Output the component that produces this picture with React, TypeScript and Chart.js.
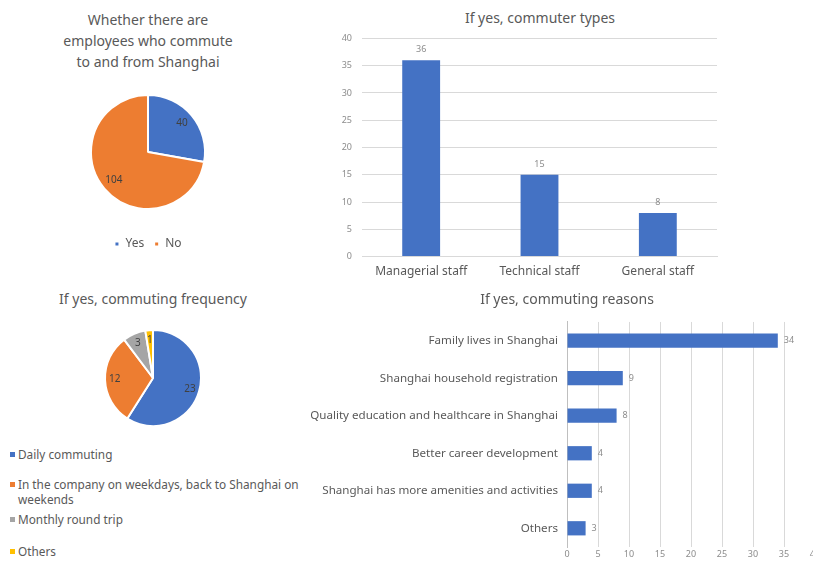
import React, { useEffect, useRef } from "react";
import { Chart, registerables } from "chart.js";

Chart.register(...registerables);

const FONT = "'Noto Sans', sans-serif";
const BLUE = "#4472C4";
const ORANGE = "#ED7D31";
const GREY = "#A5A5A5";
const YELLOW = "#FFC000";
const TEXT = "#595959";
const TICK = "#8c8c8c";
const GRID = "#d9d9d9";

// Chart 1: whether employees commute
const commuteTitle = ["Whether there are", "employees who commute", "to and from Shanghai"];
const commuteLabels = ["Yes", "No"];
const commuteValues = [40, 104];

// Chart 2: commuter types
const typeTitle = "If yes, commuter types";
const typeLabels = ["Managerial staff", "Technical staff", "General staff"];
const typeValues = [36, 15, 8];
const typeAxisMax = 40;
const typeAxisStep = 5;

// Chart 3: commuting frequency
const freqTitle = "If yes, commuting frequency";
const freqLabels = [
  "Daily commuting",
  "In the company on weekdays, back to Shanghai on weekends",
  "Monthly round trip",
  "Others",
];
const freqValues = [23, 12, 3, 1];

// Chart 4: commuting reasons
const reasonTitle = "If yes, commuting reasons";
const reasonLabels = [
  "Family lives in Shanghai",
  "Shanghai household registration",
  "Quality education and healthcare in Shanghai",
  "Better career development",
  "Shanghai has more amenities and activities",
  "Others",
];
const reasonValues = [34, 9, 8, 4, 4, 3];
const reasonAxisMax = 40;
const reasonAxisStep = 5;

const pieColors = [BLUE, ORANGE, GREY, YELLOW];

const valueLabels = {
  id: "valueLabels",
  afterDatasetsDraw(chart: any) {
    const opts = chart.options.plugins.valueLabels;
    if (!opts || !opts.mode) return;
    const ctx = chart.ctx;
    ctx.save();
    ctx.font = `${opts.size}px ${FONT}`;
    ctx.fillStyle = opts.color;
    chart.data.datasets.forEach((ds: any, di: number) => {
      const meta = chart.getDatasetMeta(di);
      meta.data.forEach((el: any, i: number) => {
        const text = String(ds.data[i]);
        if (opts.mode === "pie") {
          const p = el.getProps(["x", "y", "startAngle", "endAngle", "outerRadius"], true);
          const mid = (p.startAngle + p.endAngle) / 2;
          const r = p.outerRadius * opts.ratio;
          ctx.textAlign = "center";
          ctx.textBaseline = "middle";
          ctx.fillText(text, p.x + Math.cos(mid) * r, p.y + Math.sin(mid) * r);
        } else if (opts.mode === "top") {
          ctx.textAlign = "center";
          ctx.textBaseline = "bottom";
          ctx.fillText(text, el.x, el.y - opts.offset);
        } else {
          ctx.textAlign = "left";
          ctx.textBaseline = "middle";
          ctx.fillText(text, el.x + opts.offset, el.y);
        }
      });
    });
    ctx.restore();
  },
};

const abs = (left: number, top: number, width: number, height: number): React.CSSProperties => ({
  position: "absolute",
  left,
  top,
  width,
  height,
});

const titleStyle = (left: number, top: number, width: number): React.CSSProperties => ({
  position: "absolute",
  left,
  top,
  width,
  textAlign: "center",
  fontSize: 14,
  lineHeight: "21px",
  color: TEXT,
  fontFamily: FONT,
  whiteSpace: "nowrap",
});

export default function App() {
  const c1 = useRef<HTMLCanvasElement>(null);
  const c2 = useRef<HTMLCanvasElement>(null);
  const c3 = useRef<HTMLCanvasElement>(null);
  const c4 = useRef<HTMLCanvasElement>(null);

  useEffect(() => {
    Chart.defaults.font.family = FONT;
    const charts: Chart[] = [];

    charts.push(
      new Chart(c1.current!, {
        type: "pie",
        data: {
          labels: commuteLabels,
          datasets: [
            {
              data: commuteValues,
              backgroundColor: pieColors.slice(0, commuteValues.length),
              borderColor: "#ffffff",
              borderWidth: 2,
            },
          ],
        },
        options: {
          animation: false,
          responsive: false,
          maintainAspectRatio: false,
          layout: { padding: { left: 50, right: 50, top: 0, bottom: 4 } },
          plugins: {
            title: { display: false },
            tooltip: { enabled: false },
            legend: {
              display: true,
              position: "bottom",
              labels: { boxWidth: 5, boxHeight: 5, color: TEXT, font: { size: 12, family: FONT }, padding: 10 },
            },
            valueLabels: { mode: "pie", ratio: 0.78, size: 10, color: "#404040" },
          } as any,
        },
        plugins: [valueLabels],
      })
    );

    charts.push(
      new Chart(c2.current!, {
        type: "bar",
        data: {
          labels: typeLabels,
          datasets: [
            {
              data: typeValues,
              backgroundColor: BLUE,
              barPercentage: 1,
              categoryPercentage: 0.32,
            },
          ],
        },
        options: {
          animation: false,
          responsive: false,
          maintainAspectRatio: false,
          layout: { padding: { left: 0, right: 23, top: 5, bottom: 7 } },
          scales: {
            x: {
              grid: { display: false, drawTicks: false },
              border: { display: true, color: GRID },
              ticks: { color: TEXT, font: { size: 12, family: FONT }, padding: 8 },
            },
            y: {
              min: 0,
              max: typeAxisMax,
              ticks: { stepSize: typeAxisStep, color: TICK, font: { size: 9, family: FONT }, padding: 10 },
              grid: { color: GRID, drawTicks: false },
              border: { display: false },
              afterFit: (s: any) => {
                s.width = 32;
              },
            },
          },
          plugins: {
            legend: { display: false },
            tooltip: { enabled: false },
            valueLabels: { mode: "top", offset: 6, size: 9, color: TICK },
          } as any,
        },
        plugins: [valueLabels],
      })
    );

    charts.push(
      new Chart(c3.current!, {
        type: "pie",
        data: {
          labels: freqLabels,
          datasets: [
            {
              data: freqValues,
              backgroundColor: pieColors,
              borderColor: "#ffffff",
              borderWidth: 2,
            },
          ],
        },
        options: {
          animation: false,
          responsive: false,
          maintainAspectRatio: false,
          layout: { padding: { left: 64, right: 64, top: 0, bottom: 0 } },
          plugins: {
            legend: { display: false },
            tooltip: { enabled: false },
            valueLabels: { mode: "pie", ratio: 0.8, size: 10, color: "#404040" },
          } as any,
        },
        plugins: [valueLabels],
      })
    );

    charts.push(
      new Chart(c4.current!, {
        type: "bar",
        data: {
          labels: reasonLabels,
          datasets: [
            {
              data: reasonValues,
              backgroundColor: BLUE,
              barPercentage: 1,
              categoryPercentage: 0.38,
            },
          ],
        },
        options: {
          indexAxis: "y",
          animation: false,
          responsive: false,
          maintainAspectRatio: false,
          layout: { padding: { left: 0, right: 25, top: 4, bottom: 0 } },
          scales: {
            x: {
              min: 0,
              max: reasonAxisMax,
              ticks: { stepSize: reasonAxisStep, color: TICK, font: { size: 9, family: FONT }, padding: 2 },
              grid: { color: GRID, drawTicks: false },
              border: { display: false },
            },
            y: {
              grid: { display: false, drawTicks: false },
              border: { display: true, color: "#bfbfbf" },
              ticks: { color: TEXT, font: { size: 11.6, family: FONT }, padding: 9 },
              afterFit: (s: any) => {
                s.width = 267;
              },
            },
          },
          plugins: {
            legend: { display: false },
            tooltip: { enabled: false },
            valueLabels: { mode: "right", offset: 6, size: 9, color: TICK },
          } as any,
        },
        plugins: [valueLabels],
      })
    );

    return () => charts.forEach((c) => c.destroy());
  }, []);

  return (
    <div
      style={{
        position: "absolute",
        left: 0,
        top: 0,
        width: 813,
        height: 561,
        overflow: "hidden",
        background: "#ffffff",
        fontFamily: FONT,
      }}
    >
      <div style={titleStyle(48, 9, 200)}>
        {commuteTitle.map((t, i) => (
          <div key={i}>{t}</div>
        ))}
      </div>
      <canvas ref={c1} width={216} height={188} style={abs(40, 76, 216, 188)} />

      <div style={titleStyle(440, 7, 200)}>{typeTitle}</div>
      <canvas ref={c2} width={410} height={271} style={abs(330, 23, 410, 271)} />

      <div style={titleStyle(53, 288, 200)}>{freqTitle}</div>
      <canvas ref={c3} width={226} height={120} style={abs(40, 318, 226, 120)} />
      <div style={{ position: "absolute", left: 10, top: 447, width: 300, fontSize: 11.8, lineHeight: "15px", color: TEXT }}>
        {freqLabels.map((t, i) => (
          <div key={i} style={{ display: "flex", alignItems: "flex-start", marginBottom: i === 1 ? 5 : i === 2 ? 17 : 15 }}>
            <span
              style={{
                display: "inline-block",
                width: 5,
                height: 5,
                background: pieColors[i],
                marginTop: 5,
                marginRight: 3,
                flex: "0 0 auto",
              }}
            />
            <span>{t}</span>
          </div>
        ))}
      </div>

      <div style={titleStyle(467, 288, 200)}>{reasonTitle}</div>
      <canvas ref={c4} width={540} height={257} style={abs(300, 306, 540, 257)} />
    </div>
  );
}
